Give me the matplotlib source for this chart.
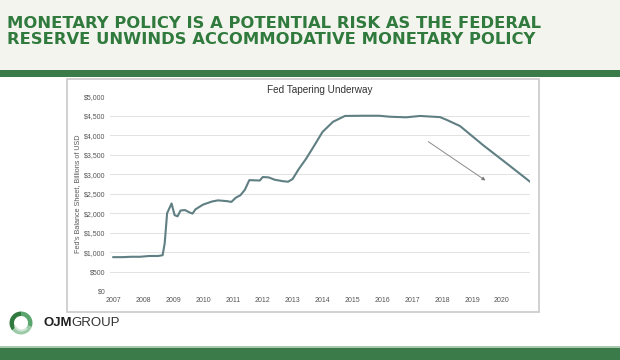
import matplotlib
matplotlib.use("Agg")
import matplotlib.pyplot as plt
from matplotlib.patches import Rectangle, Wedge

plt.rcParams['font.family'] = ['Liberation Sans', 'DejaVu Sans']

# ---- data ----
years = [2007.0, 2007.3, 2007.6, 2007.9, 2008.2, 2008.5, 2008.65, 2008.72, 2008.8,
         2008.95, 2009.05, 2009.15, 2009.25, 2009.4, 2009.55, 2009.65, 2009.75,
         2010.0, 2010.3, 2010.5, 2010.8, 2010.95, 2011.1, 2011.25, 2011.4, 2011.55,
         2011.9, 2012.0, 2012.2, 2012.4, 2012.7, 2012.85, 2013.0, 2013.2, 2013.45,
         2013.7, 2014.0, 2014.35, 2014.75, 2015.3, 2015.9, 2016.25, 2016.8,
         2017.26, 2017.93, 2018.15, 2018.6, 2019.37, 2020.16, 2020.94]
balance = [870, 870, 880, 880, 900, 900, 920, 1230, 2000,
           2250, 1950, 1920, 2070, 2080, 2020, 1990, 2100,
           2220, 2300, 2330, 2310, 2290, 2400, 2460, 2600, 2850,
           2840, 2930, 2920, 2860, 2820, 2810, 2880, 3130, 3400,
           3710, 4090, 4350, 4500, 4505, 4505, 4480, 4465,
           4500, 4470, 4400, 4240, 3750, 3280, 2810]
year_ticks = list(range(2007, 2021))
y_ticks = [0, 500, 1000, 1500, 2000, 2500, 3000, 3500, 4000, 4500, 5000]
arrow_start = (2017.46, 3880)
arrow_end = (2019.53, 2800)

header_lines = ["MONETARY POLICY IS A POTENTIAL RISK AS THE FEDERAL",
                "RESERVE UNWINDS ACCOMMODATIVE MONETARY POLICY"]
chart_title = "Fed Tapering Underway"
y_label = "Fed's Balance Sheet, Billions of USD"

W, H = 620, 360
fig = plt.figure(figsize=(W / 100, H / 100), dpi=100)
fig.patch.set_facecolor('white')

def px(x, y):
    return x / W, 1 - y / H

green = '#3b7b4a'
# top band background
fig.patches.append(Rectangle(px(0, 70), 1, 70 / H, transform=fig.transFigure,
                             facecolor='#f4f4ef', edgecolor='none', zorder=0))
fig.patches.append(Rectangle(px(0, 76.5), 1, 6.5 / H, transform=fig.transFigure,
                             facecolor=green, edgecolor='none', zorder=1))
# bottom band
fig.patches.append(Rectangle(px(0, 360), 1, 13 / H, transform=fig.transFigure,
                             facecolor=green, edgecolor='none', zorder=1))
fig.patches.append(Rectangle(px(0, 347.5), 1, 1.2 / H, transform=fig.transFigure,
                             facecolor='#a9c9b0', edgecolor='none', zorder=1))
# chart box
fig.patches.append(Rectangle(px(66.7, 311.7), (539 - 66.7) / W, (311.7 - 79) / H,
                             transform=fig.transFigure, facecolor='white',
                             edgecolor='#c9c9c9', linewidth=1.2, zorder=1))

# header text (fit first line to reference width)
hdr = []
for i, line in enumerate(header_lines):
    t = fig.text(7 / W, 1 - (24 + 15.5 * i) / H, line, fontsize=11.5, fontweight='bold',
                 family=['DejaVu Sans'], color='#2f7a3c', ha='left', va='center', zorder=3)
    hdr.append(t)
fig.canvas.draw()
r = fig.canvas.get_renderer()
w0 = hdr[0].get_window_extent(r).width
fs = 11.5 * 534 / w0
for t in hdr:
    t.set_fontsize(fs)

# axes
x0 = 2007 - 3.3 / 29.9
x1 = 2020.94
ax = fig.add_axes([110 / W, 1 - 291 / H, 420 / W, 194.5 / H])
ax.set_facecolor('none')
ax.set_zorder(2)
ax.plot(years, balance, color='#5f7f83', linewidth=1.5, solid_joinstyle='round')
ax.set_xlim(x0, x1)
ax.set_ylim(0, 5000)
ax.set_xticks(year_ticks)
ax.set_xticklabels([str(y) for y in year_ticks])
ax.set_yticks(y_ticks)
ax.set_yticklabels([f"${v:,}" for v in y_ticks])
ax.tick_params(axis='both', length=0, labelsize=5, labelcolor='#555555')
ax.tick_params(axis='y', pad=3)
ax.tick_params(axis='x', pad=4)
ax.grid(axis='y', color='#e2e2e2', linewidth=0.7)
ax.set_axisbelow(True)
for s in ax.spines.values():
    s.set_visible(False)
ax.set_ylabel(y_label, fontsize=5.2, color='#5a5a5a', labelpad=2.5)
ax.set_title(chart_title, fontsize=7.2, color='#333333', pad=2.5)

ax.annotate('', xy=arrow_end, xytext=arrow_start,
            arrowprops=dict(arrowstyle='-|>', ec='#8a8a8a', fc='black',
                            linewidth=0.7, mutation_scale=5))

# logo
cx, cy = px(21, 323)
lax = fig.add_axes([cx - 14 / W, cy - 14 / H, 28 / W, 28 / H])
lax.set_xlim(-14, 14)
lax.set_ylim(-14, 14)
lax.set_aspect('equal')
lax.axis('off')
lax.add_patch(Wedge((0, 0), 11.5, 90, 220, width=4.5, facecolor='#2f7a3c', edgecolor='none'))
lax.add_patch(Wedge((0, 0), 11.5, 220, 340, width=4.5, facecolor='#9ccaa7', edgecolor='none'))
lax.add_patch(Wedge((0, 0), 11.5, -20, 90, width=4.5, facecolor='#5aa66e', edgecolor='none'))
lax.add_patch(Wedge((0.5, -0.5), 8.0, 200, 320, width=2.0, facecolor='#cfe5d5', edgecolor='none'))

t1 = fig.text(43 / W, 1 - 323 / H, "OJM", fontsize=9.5, fontweight='bold',
              color='#1e1e1e', ha='left', va='center')
fig.canvas.draw()
bb = t1.get_window_extent()
fig.text(bb.x1 / fig.bbox.width, 1 - 323 / H, "GROUP",
         fontsize=9.5, color='#333333', ha='left', va='center')

fig.savefig('out.png', dpi=100, facecolor=fig.get_facecolor())
